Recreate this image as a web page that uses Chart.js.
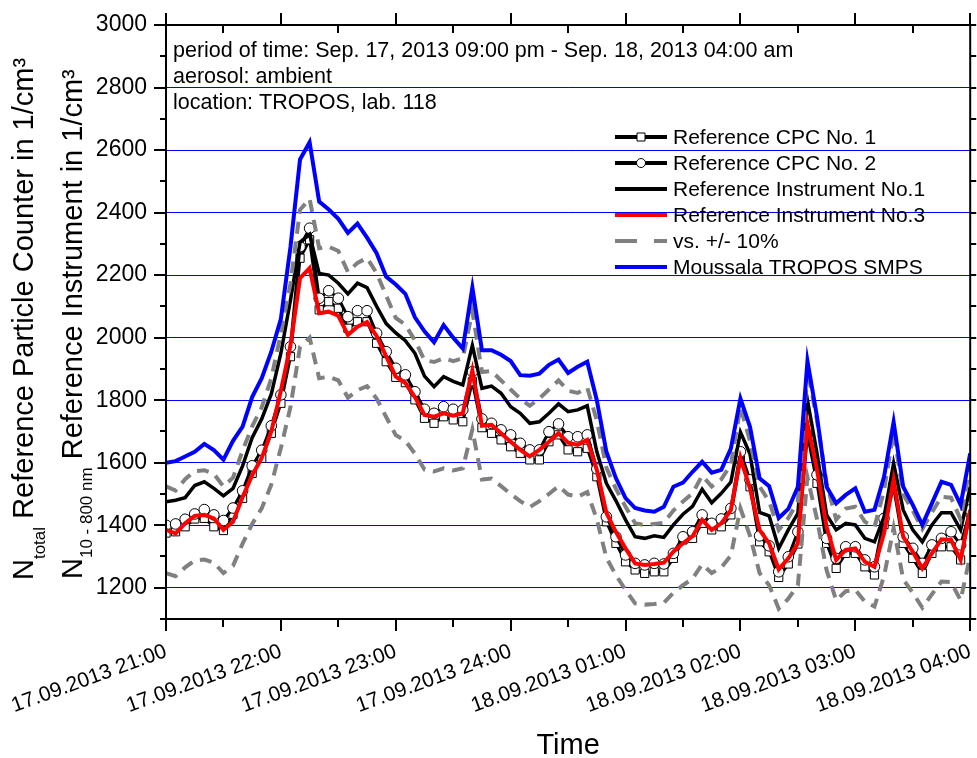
<!DOCTYPE html>
<html>
<head>
<meta charset="utf-8">
<script src="https://cdn.jsdelivr.net/npm/chart.js@4.4.1/dist/chart.umd.min.js"></script>
<style>
  html, body { margin: 0; padding: 0; background: #fff; }
  #c { display: block; }
</style>
</head>
<body>
<canvas id="c" width="977" height="758"></canvas>
<script>
const FONT = "'Liberation Sans', Arial, sans-serif";

// x = minutes after 17.09.2013 21:00, one sample every 5 min
const minutes = Array.from({ length: 85 }, (_, i) => i * 5);
const xTickLabels = ['17.09.2013 21:00', '17.09.2013 22:00', '17.09.2013 23:00', '17.09.2013 24:00',
  '18.09.2013 01:00', '18.09.2013 02:00', '18.09.2013 03:00', '18.09.2013 04:00'];

const cpc1 = [1375, 1379, 1395, 1420, 1422, 1395, 1383, 1435, 1486, 1566, 1614, 1694, 1790, 1939, 2254, 2313,
  2089, 2115, 2094, 2030, 2051, 2051, 1982, 1923, 1873, 1856, 1801, 1742, 1726, 1747, 1737, 1731, 1859, 1712,
  1694, 1673, 1651, 1630, 1609, 1609, 1667, 1689, 1641, 1635, 1646, 1555, 1411, 1342, 1283, 1257, 1246, 1251,
  1251, 1294, 1353, 1358, 1406, 1385, 1395, 1433, 1610, 1523, 1347, 1315, 1233, 1276, 1340, 1690, 1534, 1342,
  1262, 1310, 1310, 1267, 1241, 1402, 1523, 1342, 1294, 1246, 1310, 1331, 1331, 1289, 1440];

const cpc2 = [1400, 1404, 1419, 1436, 1450, 1433, 1415, 1455, 1510, 1590, 1640, 1718, 1817, 1971, 2291, 2350,
  2126, 2150, 2126, 2067, 2086, 2086, 2014, 1955, 1902, 1881, 1827, 1771, 1758, 1779, 1771, 1769, 1891, 1740,
  1726, 1705, 1689, 1662, 1641, 1641, 1699, 1724, 1683, 1683, 1689, 1580, 1427, 1363, 1305, 1278, 1273, 1278,
  1276, 1310, 1363, 1379, 1433, 1406, 1420, 1454, 1635, 1545, 1366, 1334, 1251, 1299, 1379, 1715, 1561, 1358,
  1294, 1331, 1331, 1289, 1267, 1422, 1529, 1363, 1326, 1278, 1337, 1358, 1379, 1337, 1449];

const instr1 = [1475, 1480, 1488, 1527, 1539, 1518, 1494, 1518, 1590, 1680, 1740, 1820, 1950, 2120, 2305, 2330,
  2205, 2200, 2174, 2140, 2174, 2160, 2100, 2045, 2015, 1990, 1950, 1877, 1843, 1875, 1860, 1849, 1975, 1838,
  1845, 1822, 1779, 1758, 1726, 1731, 1758, 1788, 1763, 1769, 1782, 1635, 1534, 1478, 1417, 1363, 1358, 1366,
  1361, 1401, 1435, 1460, 1515, 1472, 1502, 1538, 1698, 1628, 1441, 1430, 1326, 1385, 1438, 1800, 1630, 1433,
  1385, 1406, 1401, 1358, 1347, 1427, 1598, 1449, 1385, 1347, 1401, 1440, 1440, 1385, 1523];

const instr3 = [1385, 1374, 1406, 1430, 1433, 1422, 1385, 1411, 1490, 1560, 1615, 1700, 1830, 1975, 2190, 2222,
  2078, 2083, 2070, 2009, 2035, 2050, 2005, 1940, 1875, 1855, 1810, 1753, 1747, 1758, 1750, 1758, 1895, 1718,
  1721, 1694, 1667, 1641, 1620, 1641, 1667, 1694, 1664, 1657, 1673, 1577, 1440, 1378, 1326, 1278, 1273, 1276,
  1280, 1315, 1342, 1365, 1417, 1385, 1406, 1448, 1616, 1518, 1385, 1342, 1259, 1294, 1342, 1725, 1577, 1395,
  1289, 1321, 1326, 1283, 1267, 1374, 1545, 1363, 1315, 1262, 1310, 1355, 1353, 1289, 1449];

const bandUpper = [1524, 1511, 1547, 1573, 1576, 1564, 1524, 1552, 1639, 1716, 1777, 1870, 2013, 2173, 2409, 2444,
  2286, 2291, 2277, 2210, 2239, 2255, 2206, 2134, 2063, 2041, 1991, 1928, 1922, 1934, 1925, 1934, 2085, 1890,
  1893, 1863, 1834, 1805, 1782, 1805, 1834, 1863, 1830, 1823, 1840, 1735, 1584, 1516, 1459, 1406, 1400, 1404,
  1408, 1447, 1476, 1502, 1559, 1524, 1547, 1593, 1778, 1670, 1524, 1476, 1385, 1423, 1476, 1898, 1735, 1535,
  1418, 1453, 1459, 1411, 1394, 1511, 1700, 1499, 1447, 1388, 1441, 1491, 1488, 1418, 1594];

const bandLower = [1247, 1237, 1265, 1287, 1290, 1280, 1247, 1270, 1341, 1404, 1454, 1530, 1647, 1778, 1971, 2000,
  1870, 1875, 1863, 1808, 1832, 1845, 1805, 1746, 1688, 1670, 1629, 1578, 1572, 1582, 1575, 1582, 1706, 1546,
  1549, 1525, 1500, 1477, 1458, 1477, 1500, 1525, 1498, 1491, 1506, 1419, 1296, 1240, 1193, 1150, 1146, 1148,
  1152, 1184, 1208, 1229, 1275, 1247, 1265, 1303, 1454, 1366, 1247, 1208, 1133, 1165, 1208, 1553, 1419, 1256,
  1160, 1189, 1193, 1155, 1140, 1237, 1391, 1227, 1184, 1136, 1179, 1220, 1218, 1160, 1304];

const smps = [1600, 1605, 1620, 1635, 1660, 1640, 1610, 1670, 1715, 1810, 1870, 1955, 2060, 2290, 2570, 2625,
  2435, 2410, 2380, 2335, 2365, 2320, 2270, 2195, 2170, 2140, 2065, 2020, 1985, 2040, 2000, 1965, 2160, 1960,
  1960, 1945, 1925, 1880, 1878, 1885, 1913, 1930, 1887, 1907, 1923, 1800, 1635, 1550, 1487, 1455, 1447, 1443,
  1459, 1523, 1536, 1571, 1603, 1568, 1577, 1645, 1805, 1715, 1550, 1525, 1423, 1452, 1523, 1925, 1747, 1523,
  1470, 1497, 1518, 1443, 1449, 1555, 1730, 1523, 1465, 1401, 1470, 1539, 1529, 1465, 1630];

const infoLines = [
  'period of time: Sep. 17, 2013 09:00 pm - Sep. 18, 2013 04:00 am',
  'aerosol: ambient',
  'location: TROPOS, lab. 118'
];

const yMin = 1100, yMax = 3000;

const legendItems = [
  { text: 'Reference CPC No. 1', color: '#000', width: 4, marker: 'rect' },
  { text: 'Reference CPC No. 2', color: '#000', width: 4, marker: 'circle' },
  { text: 'Reference Instrument No.1', color: '#000', width: 4 },
  { text: 'Reference Instrument No.3', color: '#ff0000', width: 4 },
  { text: 'vs. +/- 10%', color: '#808080', width: 4, dash: [22, 17] },
  { text: 'Moussala TROPOS SMPS', color: '#0000ff', width: 4 }
];

function drawRich(ctx, x, y, parts) {
  ctx.save();
  ctx.translate(x, y);
  ctx.rotate(-Math.PI / 2);
  ctx.textAlign = 'left';
  ctx.textBaseline = 'alphabetic';
  let cx = 0;
  for (const p of parts) {
    ctx.font = p.size + 'px ' + FONT;
    ctx.fillText(p.text, cx, p.dy || 0);
    cx += ctx.measureText(p.text).width;
  }
  ctx.restore();
}

const framePlugin = {
  id: 'frame',
  afterDraw(chart) {
    const { ctx, chartArea: a, scales } = chart;
    const xs = scales.x, ys = scales.y;
    ctx.save();
    ctx.strokeStyle = '#000';
    ctx.lineWidth = 2;
    ctx.strokeRect(a.left, a.top, a.right - a.left, a.bottom - a.top);

    // axis ticks
    ctx.beginPath();
    for (let v = yMin; v <= yMax; v += 100) {
      const py = Math.round(ys.getPixelForValue(v));
      const len = v % 200 === 0 ? 12 : 6;
      ctx.moveTo(a.left - len, py); ctx.lineTo(a.left, py);
      ctx.moveTo(a.right, py); ctx.lineTo(a.right + 6, py);
    }
    for (let m = 0; m <= 420; m += 30) {
      const px = Math.round(xs.getPixelForValue(m));
      const major = m % 60 === 0;
      ctx.moveTo(px, a.bottom); ctx.lineTo(px, a.bottom + (major ? 12 : 8));
      ctx.moveTo(px, a.top); ctx.lineTo(px, major ? a.top - 12 : a.top + 8);
    }
    ctx.stroke();

    ctx.fillStyle = '#000';
    // info text
    ctx.font = '21.5px ' + FONT;
    ctx.textAlign = 'left';
    ctx.textBaseline = 'alphabetic';
    infoLines.forEach((t, i) => ctx.fillText(t, a.left + 7, 57 + i * 26.2));

    // legend
    const lx0 = 615, lx1 = 667;
    ctx.font = '21px ' + FONT;
    ctx.textBaseline = 'middle';
    legendItems.forEach((it, i) => {
      const ly = 137 + i * 26;
      ctx.save();
      ctx.strokeStyle = it.color;
      ctx.lineWidth = it.width;
      ctx.setLineDash(it.dash || []);
      ctx.beginPath(); ctx.moveTo(lx0, ly); ctx.lineTo(lx1, ly); ctx.stroke();
      ctx.restore();
      if (it.marker) {
        ctx.save();
        ctx.fillStyle = '#fff'; ctx.strokeStyle = '#000'; ctx.lineWidth = 1;
        const cx = (lx0 + lx1) / 2;
        ctx.beginPath();
        if (it.marker === 'rect') ctx.rect(cx - 4, ly - 4, 8, 8);
        else ctx.arc(cx, ly, 4.5, 0, Math.PI * 2);
        ctx.fill(); ctx.stroke();
        ctx.restore();
      }
      ctx.fillStyle = '#000';
      ctx.fillText(it.text, lx1 + 6, ly + 1);
    });

    // axis titles
    ctx.textBaseline = 'alphabetic';
    drawRich(ctx, 33, 580, [
      { text: 'N', size: 29 },
      { text: 'total', size: 17, dy: 12 },
      { text: ' Reference Particle Counter in 1/cm³', size: 29 }
    ]);
    drawRich(ctx, 82, 579, [
      { text: 'N', size: 29 },
      { text: '10 - 800 nm', size: 17, dy: 10 },
      { text: ' Reference Instrument in 1/cm³', size: 29 }
    ]);
    ctx.font = '29px ' + FONT;
    ctx.textAlign = 'center';
    ctx.fillText('Time', (a.left + a.right) / 2, 754);
    ctx.restore();
  }
};

const base = { xAxisID: 'x', yAxisID: 'y', fill: false, tension: 0, pointRadius: 0, borderJoinStyle: 'miter' };

new Chart(document.getElementById('c'), {
  type: 'line',
  data: {
    labels: minutes,
    datasets: [
      { ...base, label: 'Reference CPC No. 1', data: cpc1, borderColor: '#000', borderWidth: 3,
        pointStyle: 'rect', pointRadius: 5.8, pointBackgroundColor: '#fff', pointBorderColor: '#000',
        pointBorderWidth: 1, order: 5 },
      { ...base, label: 'Reference CPC No. 2', data: cpc2, borderColor: '#000', borderWidth: 3,
        pointStyle: 'circle', pointRadius: 5.3, pointBackgroundColor: '#fff', pointBorderColor: '#000',
        pointBorderWidth: 1, order: 4 },
      { ...base, label: 'Reference Instrument No.1', data: instr1, borderColor: '#000', borderWidth: 3.5, order: 3 },
      { ...base, label: 'Reference Instrument No.3', data: instr3, borderColor: '#ff0000', borderWidth: 4, order: 2 },
      { ...base, label: 'vs. +/- 10%', data: bandUpper, borderColor: '#808080', borderWidth: 4,
        borderDash: [12, 8], order: 1 },
      { ...base, label: 'vs. -10%', data: bandLower, borderColor: '#808080', borderWidth: 4,
        borderDash: [12, 8], order: 1 },
      { ...base, label: 'Moussala TROPOS SMPS', data: smps, borderColor: '#0000ff', borderWidth: 4, order: 0 }
    ]
  },
  options: {
    responsive: false,
    animation: false,
    devicePixelRatio: 1,
    layout: { padding: 0 },
    events: [],
    plugins: { legend: { display: false }, tooltip: { enabled: false } },
    scales: {
      x: {
        type: 'linear', position: 'bottom', min: 0, max: 420,
        afterFit(s) { s.height = 139; s.paddingLeft = 0; s.paddingRight = 0; },
        grid: { display: false },
        border: { display: false },
        ticks: {
          stepSize: 30, autoSkip: false, minRotation: 20, maxRotation: 20, padding: 12,
          color: '#000', font: { family: FONT, size: 21 },
          callback: v => (v % 60 === 0 ? xTickLabels[v / 60] : '')
        }
      },
      x2: {
        type: 'linear', position: 'top', min: 0, max: 420,
        afterFit(s) { s.height = 25; s.paddingLeft = 0; s.paddingRight = 0; },
        grid: { display: false }, border: { display: false }, ticks: { display: false }
      },
      y: {
        type: 'linear', position: 'left', min: yMin, max: yMax,
        afterFit(s) { s.width = 166; s.paddingTop = 0; s.paddingBottom = 0; },
        border: { display: false },
        grid: {
          drawTicks: false, lineWidth: 1,
          color: c => (c.tick && c.tick.value % 200 === 0 && c.tick.value < yMax ? '#0000ff' : 'rgba(0,0,0,0)')
        },
        ticks: {
          stepSize: 100, autoSkip: false, padding: 19, color: '#000', font: { family: FONT, size: 23 },
          callback: v => (v % 200 === 0 ? String(v) : '')
        }
      },
      y2: {
        type: 'linear', position: 'right', min: yMin, max: yMax,
        afterFit(s) { s.width = 4; s.paddingTop = 0; s.paddingBottom = 0; },
        grid: { display: false }, border: { display: false }, ticks: { display: false }
      }
    }
  },
  plugins: [framePlugin]
});
</script>
</body>
</html>
